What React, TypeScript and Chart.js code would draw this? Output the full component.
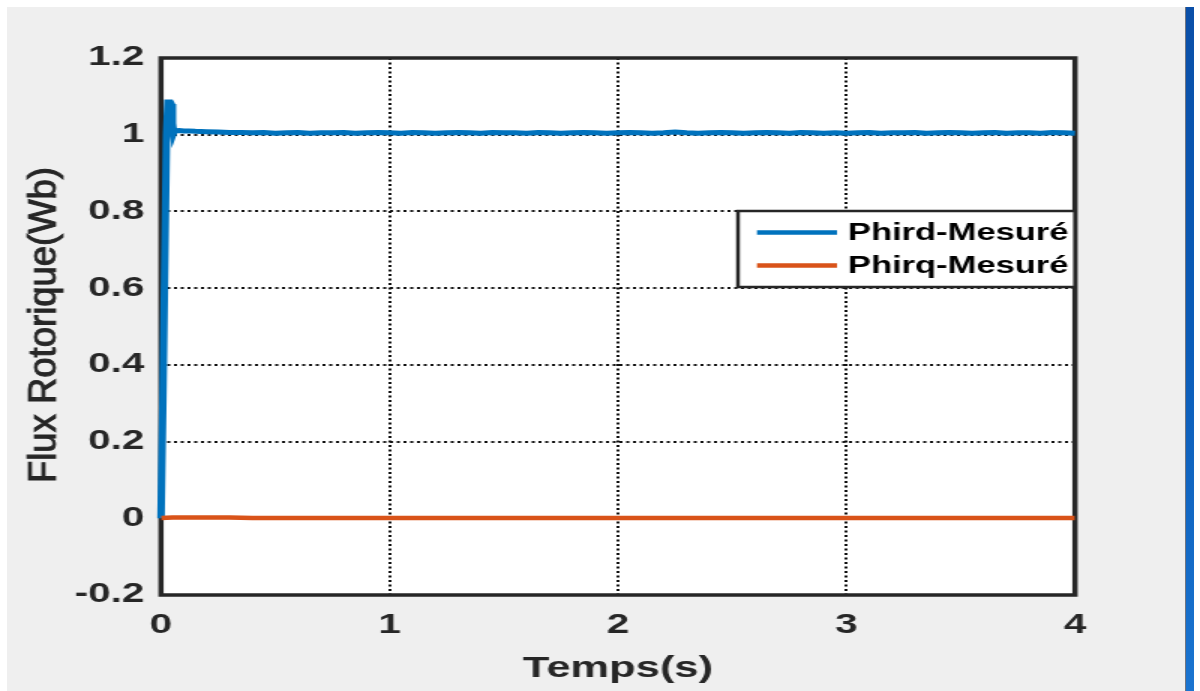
import React, { useEffect, useRef } from "react";
import { Chart, registerables } from "chart.js";

Chart.register(...registerables);

// ---- data ----
const blueTimes = [
  0, 0.008, 0.016, 0.024, 0.03, 0.04, 0.045, 0.05, 0.055, 0.06, 0.07, 0.08, 0.1, 0.12, 0.15, 0.2, 0.25, 0.3,
  0.35, 0.4, 0.45, 0.5, 0.55, 0.6, 0.65, 0.7, 0.75, 0.8, 0.85, 0.9, 0.95, 1.0,
  1.05, 1.1, 1.15, 1.2, 1.25, 1.3, 1.35, 1.4, 1.45, 1.5, 1.55, 1.6, 1.65, 1.7, 1.75, 1.8, 1.85, 1.9, 1.95, 2.0,
  2.05, 2.1, 2.15, 2.2, 2.25, 2.3, 2.35, 2.4, 2.45, 2.5, 2.55, 2.6, 2.65, 2.7, 2.75, 2.8, 2.85, 2.9, 2.95, 3.0,
  3.05, 3.1, 3.15, 3.2, 3.25, 3.3, 3.35, 3.4, 3.45, 3.5, 3.55, 3.6, 3.65, 3.7, 3.75, 3.8, 3.85, 3.9, 3.95, 4.0,
];
const blueValues = [
  0, 0.3, 0.65, 1.0, 1.085, 1.085, 1.08, 1.03, 1.005, 1.013, 1.01, 1.011, 1.01, 1.01, 1.009, 1.008, 1.007, 1.006,
  1.006, 1.005, 1.006, 1.004, 1.005, 1.006, 1.004, 1.005, 1.005, 1.006, 1.004, 1.005, 1.006, 1.005,
  1.004, 1.006, 1.005, 1.004, 1.005, 1.006, 1.005, 1.004, 1.006, 1.005, 1.005, 1.004, 1.006, 1.005, 1.004, 1.005, 1.006, 1.005, 1.004, 1.005,
  1.006, 1.005, 1.004, 1.005, 1.007, 1.005, 1.004, 1.005, 1.006, 1.005, 1.004, 1.005, 1.006, 1.005, 1.004, 1.006, 1.005, 1.004, 1.005, 1.004,
  1.005, 1.006, 1.004, 1.005, 1.005, 1.006, 1.004, 1.005, 1.006, 1.005, 1.004, 1.005, 1.006, 1.004, 1.005, 1.005, 1.004, 1.006, 1.005, 1.004,
];
const orangeTimes = [0, 0.05, 0.1, 0.2, 0.3, 0.4, 1, 2, 3, 4];
const orangeValues = [0.001, 0.002, 0.002, 0.002, 0.002, 0.001, 0.001, 0.001, 0.001, 0.001];

const xTicks = [0, 1, 2, 3, 4];
const xTickLabels = ["0", "1", "2", "3", "4"];
const yTicks = [-0.2, 0, 0.2, 0.4, 0.6, 0.8, 1, 1.2];
const yTickLabels = ["-0.2", "0", "0.2", "0.4", "0.6", "0.8", "1", "1.2"];

const seriesNames = ["Phird-Mesuré", "Phirq-Mesuré"];
const seriesColors = ["#0072BD", "#D95319"];
const xTitle = "Temps(s)";
const yTitle = "Flux Rotorique(Wb)";

// ---- layout (canvas drawn at internal width, stretched horizontally like the reference) ----
const S = 1.5;
const W_REAL = 1200;
const H = 691;
const W = W_REAL / S;
const PLOT_LEFT = 161 / S;
const PLOT_RIGHT = 1075 / S;
const PLOT_TOP = 58;
const PLOT_BOTTOM = 595;
const FONT = "'Liberation Sans', Arial, Helvetica, sans-serif";
const TEXT = "#262626";

const decorPlugin = {
  id: "decor",
  beforeDraw(chart: any) {
    const { ctx, chartArea } = chart;
    ctx.save();
    ctx.fillStyle = "#ffffff";
    ctx.fillRect(chartArea.left, chartArea.top, chartArea.right - chartArea.left, chartArea.bottom - chartArea.top);
    ctx.restore();
  },
  beforeDatasetsDraw(chart: any) {
    const { ctx, chartArea } = chart;
    ctx.save();
    ctx.strokeStyle = TEXT;
    ctx.lineWidth = 3.5;
    ctx.strokeRect(chartArea.left, chartArea.top, chartArea.right - chartArea.left, chartArea.bottom - chartArea.top);
    ctx.restore();
  },
  afterDraw(chart: any) {
    const { ctx, chartArea } = chart;
    // legend
    const bx = 738 / S;
    const by = 211;
    const bw = chartArea.right - bx;
    const bh = 76;
    ctx.save();
    ctx.fillStyle = "#ffffff";
    ctx.fillRect(bx, by, bw, bh);
    ctx.strokeStyle = TEXT;
    ctx.lineWidth = 2.5;
    ctx.strokeRect(bx, by, bw, bh);
    const rows = [232.5, 265.5];
    seriesNames.forEach((name, i) => {
      ctx.strokeStyle = seriesColors[i];
      ctx.lineWidth = 4.5;
      ctx.beginPath();
      ctx.moveTo(757 / S, rows[i]);
      ctx.lineTo(837 / S, rows[i]);
      ctx.stroke();
      ctx.fillStyle = "#000000";
      ctx.font = `bold 23px ${FONT}`;
      ctx.textAlign = "left";
      ctx.textBaseline = "middle";
      ctx.fillText(name, 848 / S, rows[i] + 1);
    });
    ctx.restore();

    // y title (rotated)
    ctx.save();
    ctx.font = `33px ${FONT}`;
    const m = ctx.measureText(yTitle).width;
    const a = 316 / m;
    const b = 1.2 / S;
    ctx.translate(44 / S, 325);
    ctx.rotate(-Math.PI / 2);
    ctx.scale(a, b);
    ctx.fillStyle = TEXT;
    ctx.strokeStyle = TEXT;
    ctx.lineWidth = 0.9;
    ctx.textAlign = "center";
    ctx.textBaseline = "middle";
    ctx.fillText(yTitle, 0, 0);
    ctx.strokeText(yTitle, 0, 0);
    ctx.restore();
  },
};

export default function App() {
  const ref = useRef<HTMLCanvasElement | null>(null);

  useEffect(() => {
    if (!ref.current) return;
    const chart = new Chart(ref.current, {
      type: "line",
      data: {
        datasets: [
          {
            label: seriesNames[0],
            data: blueTimes.map((t, i) => ({ x: t, y: blueValues[i] })),
            borderColor: seriesColors[0],
            borderWidth: 5,
            pointRadius: 0,
            tension: 0,
            order: 2,
            clip: false,
          },
          {
            label: seriesNames[1],
            data: orangeTimes.map((t, i) => ({ x: t, y: orangeValues[i] })),
            borderColor: seriesColors[1],
            borderWidth: 4.5,
            pointRadius: 0,
            tension: 0,
            order: 1,
          },
        ],
      },
      options: {
        responsive: false,
        animation: false,
        devicePixelRatio: 1,
        layout: {
          padding: { left: 0, top: PLOT_TOP, right: W - PLOT_RIGHT, bottom: 0 },
        },
        plugins: {
          legend: { display: false },
          tooltip: { enabled: false },
          title: { display: false },
        },
        scales: {
          x: {
            type: "linear",
            min: 0,
            max: 4,
            afterBuildTicks: (scale: any) => {
              scale.ticks = xTicks.map((v) => ({ value: v }));
            },
            afterFit: (scale: any) => {
              scale.height = H - PLOT_BOTTOM;
            },
            grid: {
              color: "#111111",
              lineWidth: 2,
              drawTicks: false,
            },
            border: { display: false, dash: [2, 2.5] },
            ticks: {
              autoSkip: false,
              maxRotation: 0,
              padding: 14,
              color: TEXT,
              font: { family: FONT, size: 27, weight: "bold" },
              callback: (v: any) => {
                const i = xTicks.indexOf(Number(v));
                return i >= 0 ? xTickLabels[i] : "";
              },
            },
            title: {
              display: true,
              text: xTitle,
              color: TEXT,
              font: { family: FONT, size: 29, weight: "bold" },
              padding: { top: 0, bottom: 5 },
            },
          },
          y: {
            type: "linear",
            min: -0.2,
            max: 1.2,
            afterBuildTicks: (scale: any) => {
              scale.ticks = yTicks.map((v) => ({ value: v }));
            },
            afterFit: (scale: any) => {
              scale.width = PLOT_LEFT;
            },
            grid: {
              color: "#111111",
              lineWidth: 2,
              drawTicks: false,
            },
            border: { display: false, dash: [2, 2.5] },
            ticks: {
              autoSkip: false,
              padding: 11,
              color: TEXT,
              font: { family: FONT, size: 27, weight: "bold" },
              callback: (v: any) => {
                const i = yTicks.findIndex((t) => Math.abs(t - Number(v)) < 1e-9);
                return i >= 0 ? yTickLabels[i] : "";
              },
            },
            title: { display: false },
          },
        },
      },
      plugins: [decorPlugin],
    } as any);
    return () => chart.destroy();
  }, []);

  return (
    <div style={{ position: "fixed", left: 0, top: 0, width: W_REAL, height: H, background: "#ffffff", overflow: "hidden" }}>
      <div style={{ position: "absolute", left: 7, top: 7, width: 1178, height: H - 7, background: "#efefef" }} />
      <div style={{ position: "absolute", left: 1185, top: 7, width: 1, height: H - 7, background: "#6f7480" }} />
      <div
        style={{
          position: "absolute",
          left: 1186,
          top: 7,
          width: 8,
          height: H - 7,
          background: "linear-gradient(180deg, #0a4fa8 0%, #0b5cb8 50%, #1a74d0 100%)",
        }}
      />
      <canvas
        ref={ref}
        width={W}
        height={H}
        style={{ position: "absolute", left: 0, top: 0, width: W_REAL, height: H }}
      />
    </div>
  );
}
